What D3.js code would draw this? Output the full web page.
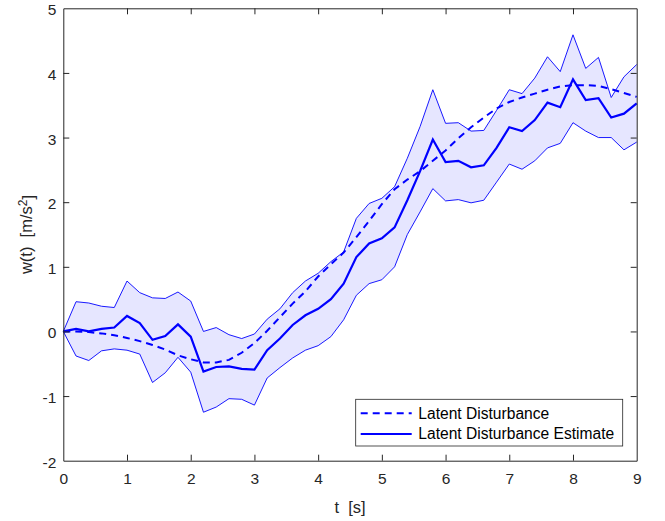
<!DOCTYPE html>
<html>
<head>
<meta charset="utf-8">
<script src="https://cdn.jsdelivr.net/npm/d3@7"></script>
<style>
  html, body { margin: 0; padding: 0; background: #fff; }
  svg { display: block; font-family: "Liberation Sans", Arial, Helvetica, sans-serif; }
</style>
</head>
<body>
<svg id="chart" width="665" height="521"></svg>
<script>
// ---- data ----
const tValues = [0,0.2,0.4,0.6,0.8,1.0,1.2,1.4,1.6,1.8,2.0,2.2,2.4,2.6,2.8,3.0,3.2,3.4,3.6,3.8,4.0,4.2,4.4,4.6,4.8,5.0,5.2,5.4,5.6,5.8,6.0,6.2,6.4,6.6,6.8,7.0,7.2,7.4,7.6,7.8,8.0,8.2,8.4,8.6,8.8,9.0];
const latentDisturbance = [0,0,-0.01,-0.03,-0.06,-0.10,-0.15,-0.21,-0.28,-0.37,-0.43,-0.48,-0.48,-0.44,-0.33,-0.18,0.01,0.22,0.43,0.62,0.85,1.04,1.22,1.46,1.71,1.97,2.20,2.35,2.48,2.64,2.80,2.99,3.16,3.31,3.45,3.55,3.62,3.68,3.74,3.79,3.81,3.81,3.80,3.75,3.69,3.63];
const estimate = [0,0.04,0.00,0.04,0.06,0.24,0.13,-0.13,-0.07,0.11,-0.08,-0.62,-0.55,-0.54,-0.58,-0.59,-0.29,-0.11,0.10,0.25,0.35,0.50,0.74,1.15,1.36,1.44,1.61,2.03,2.48,2.97,2.62,2.64,2.54,2.57,2.84,3.16,3.10,3.27,3.54,3.47,3.90,3.58,3.61,3.31,3.37,3.53];
const upperBound = [0,0.46,0.44,0.39,0.37,0.78,0.60,0.52,0.51,0.61,0.47,0.00,0.06,-0.05,-0.11,-0.04,0.19,0.35,0.60,0.78,0.90,1.08,1.23,1.75,1.98,2.06,2.24,2.68,3.17,3.74,3.22,3.23,3.10,3.11,3.42,3.74,3.68,3.92,4.25,4.02,4.59,4.07,4.24,3.62,3.94,4.13];
const lowerBound = [0,-0.38,-0.45,-0.30,-0.27,-0.29,-0.35,-0.79,-0.64,-0.40,-0.63,-1.25,-1.17,-1.04,-1.05,-1.14,-0.72,-0.56,-0.41,-0.29,-0.22,-0.08,0.18,0.56,0.74,0.80,1.00,1.50,1.85,2.21,2.02,2.04,1.99,2.03,2.31,2.59,2.51,2.64,2.84,2.91,3.23,3.10,3.00,3.00,2.81,2.93];
const xTicks = [0,1,2,3,4,5,6,7,8,9];
const yTicks = [-2,-1,0,1,2,3,4,5];
const legendLabels = ["Latent Disturbance", "Latent Disturbance Estimate"];

// ---- layout ----
const svg = d3.select("#chart");
const L = 63.3, R = 636.7, T = 8.3, B = 460.7;
const x = d3.scaleLinear().domain([0, 9]).range([L, R]);
const y = d3.scaleLinear().domain([-2, 5]).range([B, T]);
const axisColor = "#262626";
const blue = "#0000ff";
const fmt = d => String(d); // ASCII hyphen-minus as in the reference

const rows = tValues.map((t, i) => ({ t, lo: lowerBound[i], hi: upperBound[i], m: estimate[i], d: latentDisturbance[i] }));

// confidence band
svg.append("path")
  .datum(rows)
  .attr("fill", "#e6e6ff")
  .attr("stroke", "none")
  .attr("d", d3.area().x(d => x(d.t)).y0(d => y(d.lo)).y1(d => y(d.hi)));

svg.append("path").datum(rows).attr("fill", "none").attr("stroke", blue).attr("stroke-width", 0.9)
  .attr("d", d3.line().x(d => x(d.t)).y(d => y(d.hi)));
svg.append("path").datum(rows).attr("fill", "none").attr("stroke", blue).attr("stroke-width", 0.9)
  .attr("d", d3.line().x(d => x(d.t)).y(d => y(d.lo)));

// true disturbance (dashed)
svg.append("path").datum(rows).attr("fill", "none").attr("stroke", blue).attr("stroke-width", 2)
  .attr("stroke-dasharray", "7,5")
  .attr("d", d3.line().x(d => x(d.t)).y(d => y(d.d)));

// estimate
svg.append("path").datum(rows).attr("fill", "none").attr("stroke", blue).attr("stroke-width", 2.2)
  .attr("d", d3.line().x(d => x(d.t)).y(d => y(d.m)));

// ---- axes (MATLAB style box with inward ticks) ----
const tickLen = 6;
const fontSize = 15.5;
const gx = svg.append("g").attr("transform", `translate(0,${B})`)
  .call(d3.axisBottom(x).tickValues(xTicks).tickSizeInner(-tickLen).tickSizeOuter(0).tickPadding(12).tickFormat(fmt));
const gxTop = svg.append("g").attr("transform", `translate(0,${T})`)
  .call(d3.axisTop(x).tickValues(xTicks).tickSizeInner(-tickLen).tickSizeOuter(0).tickFormat(""));
const gy = svg.append("g").attr("transform", `translate(${L},0)`)
  .call(d3.axisLeft(y).tickValues(yTicks).tickSizeInner(-tickLen).tickSizeOuter(0).tickPadding(7).tickFormat(fmt));
const gyR = svg.append("g").attr("transform", `translate(${R},0)`)
  .call(d3.axisRight(y).tickValues(yTicks).tickSizeInner(-tickLen).tickSizeOuter(0).tickFormat(""));

[gx, gxTop, gy, gyR].forEach(g => {
  g.select(".domain").attr("stroke", axisColor).attr("stroke-width", 1);
  g.selectAll(".tick line").attr("stroke", axisColor).attr("stroke-width", 1);
  g.selectAll(".tick text").attr("fill", axisColor).style("font-size", fontSize + "px")
    .style("font-family", "'Liberation Sans', Arial, sans-serif");
});
gx.selectAll(".tick").filter(d => d === 0 || d === 9).select("line").remove();
gxTop.selectAll(".tick").filter(d => d === 0 || d === 9).select("line").remove();
gy.selectAll(".tick").filter(d => d === -2 || d === 5).select("line").remove();
gyR.selectAll(".tick").filter(d => d === -2 || d === 5).select("line").remove();
gx.selectAll(".tick text").attr("dy", "0.71em");
gy.selectAll(".tick text").attr("dy", "0.42em");

// axis labels
svg.append("text")
  .attr("x", (L + R) / 2).attr("y", 513)
  .attr("text-anchor", "middle").attr("fill", axisColor)
  .style("font-size", "16.5px")
  .attr("xml:space", "preserve")
  .text("t  [s]");

const yl = svg.append("text")
  .attr("transform", `translate(32,${(T + B) / 2}) rotate(-90)`)
  .attr("text-anchor", "middle").attr("fill", axisColor)
  .style("font-size", "16.5px")
  .attr("xml:space", "preserve");
yl.append("tspan").text("w(t)  [m/s");
yl.append("tspan").attr("dy", "-0.45em").style("font-size", "12px").text("2");
yl.append("tspan").attr("dy", "0.45em").text("]");

// ---- legend ----
const lg = svg.append("g");
const lx0 = 355.7, ly0 = 399.3, lw = 267, lh = 46.7;
lg.append("rect").attr("x", lx0).attr("y", ly0).attr("width", lw).attr("height", lh)
  .attr("fill", "#fff").attr("stroke", axisColor).attr("stroke-width", 0.8);
const rowY = [413.3, 434];
const dashes = ["7,5", null];
legendLabels.forEach((lab, i) => {
  const ln = lg.append("line").attr("x1", 360.7).attr("x2", 411.7).attr("y1", rowY[i]).attr("y2", rowY[i])
    .attr("stroke", blue).attr("stroke-width", 2);
  if (dashes[i]) ln.attr("stroke-dasharray", dashes[i]);
  lg.append("text").attr("x", 418.3).attr("y", rowY[i]).attr("dy", "0.35em")
    .attr("fill", "#000").style("font-size", "15.6px").text(lab);
});
</script>
</body>
</html>
